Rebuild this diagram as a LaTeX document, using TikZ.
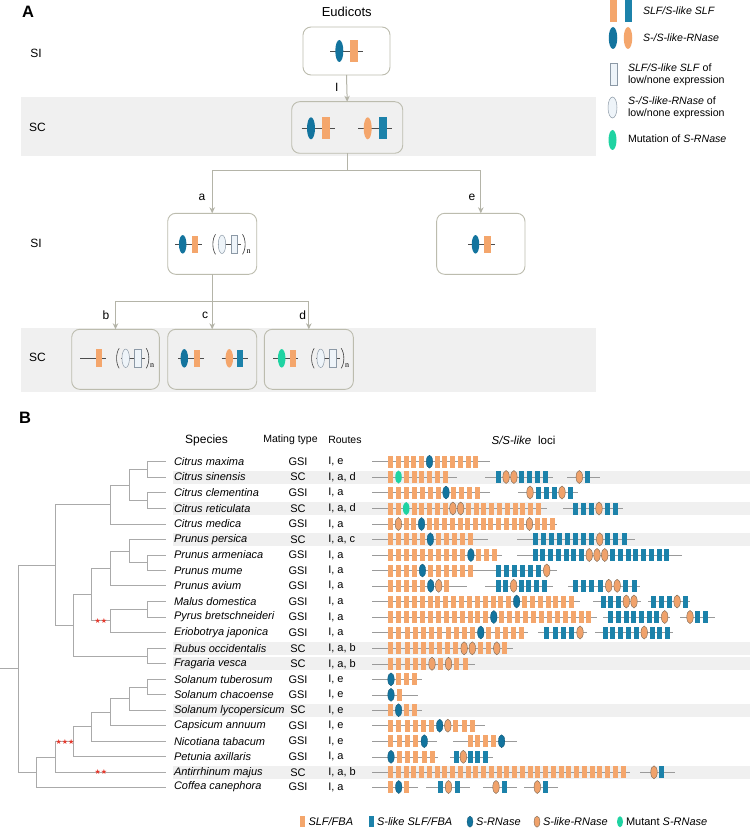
\documentclass[tikz,border=0pt]{standalone}
\usepackage{fontspec}
\setmainfont{Liberation Sans}
\newfontfamily\symfont{DejaVu Sans}
\newfontfamily\serfont{Liberation Serif}
\usetikzlibrary{shapes.geometric,arrows.meta}
\definecolor{cOr}{HTML}{F4A66C}
\definecolor{cBl}{HTML}{1C82AA}
\definecolor{cBE}{HTML}{13749E}
\definecolor{cOE}{HTML}{F0A26B}
\definecolor{cOEd}{HTML}{7A6652}
\definecolor{cGr}{HTML}{1FD3A2}
\definecolor{cLt}{HTML}{EEF4F9}
\definecolor{cLtd}{HTML}{8C99A6}
\definecolor{cBand}{HTML}{F0F0F0}
\definecolor{cBox}{HTML}{BCBCAE}
\definecolor{cArr}{HTML}{B4B4A8}
\definecolor{cTree}{HTML}{AAAAAA}
\definecolor{cLoc}{HTML}{9A9A9A}
\definecolor{cStar}{HTML}{E5372B}
\newcommand\fs[1]{\fontsize{#1}{#1}\selectfont}
\newcommand\locseg[6]{%
  \draw[locline] (#2,#1) -- (#3,#1);
  \foreach \t [count=\k from 0] in {#6} {\node[el\t] at ({#4+\k*#5},#1) {};}%
}
\newcommand\leaf[2]{\expandafter\xdef\csname nx#1\endcsname{165.7}\expandafter\xdef\csname ny#1\endcsname{#2}\coordinate (#1) at (165.7,#2);}
\newcommand\tnode[4]{%
  \edef\tnAx{\csname nx#3\endcsname}\edef\tnAy{\csname ny#3\endcsname}%
  \edef\tnBx{\csname nx#4\endcsname}\edef\tnBy{\csname ny#4\endcsname}%
  \pgfmathsetmacro\tnMy{(\tnAy+\tnBy)/2}%
  \expandafter\xdef\csname nx#1\endcsname{#2}%
  \expandafter\xdef\csname ny#1\endcsname{\tnMy}%
  \coordinate (#1) at (#2,\tnMy);
  \draw[tree] (\tnAx,\tnAy) -- (#2,\tnAy) -- (#2,\tnBy) -- (\tnBx,\tnBy);
}
\newcommand\sprow[5]{%
  \node[sptxt, anchor=west] (sp#2) at (174,#1) {\textit{#3}};
  \node[sptxt] (mt#2) at (298,#1) {#4};
  \node[sptxt, anchor=west] (rt#2) at (328.3,#1) {#5};
}
\newcommand\scband[1]{\fill[cBand] (172.7,#1-6.5) rectangle (750,#1+6.5);}
\newcommand\repgrp[2]{%
  \draw[paren] (#1+2.5,#2-10) .. controls (#1-1,#2-5) and (#1-1,#2+5) .. (#1+2.5,#2+10);
  \draw[glin] (#1+4.5,#2) -- (#1+28,#2);
  \node[midE, fill=cLt, draw=cLtd, line width=0.5pt] at (#1+9,#2) {};
  \node[midR, fill=cLt, draw=cLtd, line width=0.5pt] at (#1+21,#2) {};
  \draw[paren] (#1+29.5,#2-10) .. controls (#1+33,#2-5) and (#1+33,#2+5) .. (#1+29.5,#2+10);
  \node[font=\serfont\fs{8}] at (#1+35.5,#2+7.5) {n};
}
\begin{document}
\begin{tikzpicture}[x=1pt,y=-1pt,
  every node/.style={inner sep=0pt, outer sep=0pt},
  box/.style={draw=cBox, line width=0.9pt, rounded corners=8pt, fill=white},
  boxg/.style={box, fill=cBand},
  conn/.style={draw=cArr, line width=1pt},
  arr/.style={conn, -{Stealth[length=6pt,width=5.5pt]}},
  glin/.style={draw=black!70, line width=0.8pt},
  paren/.style={draw=black!75, line width=0.6pt},
  locline/.style={draw=cLoc, line width=0.6pt},
  tree/.style={draw=cTree, line width=0.8pt},
  elo/.style={rectangle, fill=cOr, minimum width=5pt, minimum height=12pt},
  elb/.style={rectangle, fill=cBl, minimum width=5pt, minimum height=12pt},
  elB/.style={ellipse, fill=cBE, draw=cBE!70!black, line width=0.3pt, minimum width=6.5pt, minimum height=13pt},
  elO/.style={ellipse, fill=cOE, draw=cOEd, line width=0.4pt, minimum width=6.5pt, minimum height=13pt},
  elG/.style={ellipse, fill=cGr, minimum width=6.5pt, minimum height=13pt},
  bigE/.style={ellipse, minimum width=8pt, minimum height=22pt},
  bigR/.style={rectangle, minimum width=7.7pt, minimum height=22pt},
  midE/.style={ellipse, minimum width=7.5pt, minimum height=18.5pt},
  midR/.style={rectangle, minimum width=6.5pt, minimum height=17.5pt},
  lab/.style={font=\fs{12}},
  legtxt/.style={font=\fs{10.6}, anchor=west, align=left},
  sptxt/.style={font=\fs{11}},
  hdr/.style={font=\fs{10.5}},
  star/.style={text=cStar, font=\symfont\fs{7}},
  bleg/.style={font=\fs{11}, anchor=west}
]
\useasboundingbox (0,0) rectangle (750,829);
\fill[white] (0,0) rectangle (750,829);

% ---------------- Part A ----------------
\fill[cBand] (20.7,96.7) rectangle (596,155.7);
\fill[cBand] (20.7,328.3) rectangle (596,391.7);
\node[font=\bfseries\fs{16.5}] (pA) at (28,12) {A};
\node[font=\fs{13}] (eud) at (346.7,12) {Eudicots};
\node[lab] (si1) at (36,53) {SI};
\node[lab] (sc1) at (37.5,127) {SC};
\node[lab] (si2) at (36,243) {SI};
\node[lab] (sc2) at (37.5,357) {SC};

\node[box, minimum width=87pt, minimum height=48pt] (top) at (346.5,51) {};
\node[boxg, minimum width=111pt, minimum height=51.6pt] (sc) at (347.2,127.5) {};
\node[box, minimum width=89pt, minimum height=61pt] (ba) at (212.2,243.8) {};
\node[box, minimum width=88.3pt, minimum height=61pt] (be) at (480.8,243.8) {};
\node[boxg, minimum width=87.6pt, minimum height=60pt] (bb) at (115.5,359.3) {};
\node[boxg, minimum width=89pt, minimum height=60pt] (bc) at (212.2,359.3) {};
\node[boxg, minimum width=89pt, minimum height=60pt] (bd) at (308.8,359.3) {};

% connectors
\draw[arr] (top.south) -- (sc.north);
\node[lab] (lI) at (336.7,87) {I};
\path (sc.south) ++(0,17.7) coordinate (j1);
\draw[conn] (sc.south) -- (j1);
\draw[arr] (j1) -| (ba.north);
\draw[arr] (j1) -| (be.north);
\node[lab] (la) at (202,197.5) {a};
\node[lab] (le) at (472,197.5) {e};
\path (ba.south) ++(0,27.4) coordinate (j2);
\draw[conn] (ba.south) -- (j2);
\draw[arr] (j2) -| (bb.north);
\draw[arr] (ba.south) -- (bc.north);
\draw[arr] (j2) -| (bd.north);
\node[lab] (lb) at (106,315) {b};
\node[lab] (lc) at (205,315) {c};
\node[lab] (ld) at (302.7,315) {d};

% top box glyphs
\draw[glin] (330,51) -- (363,51);
\node[bigE, fill=cBE] (tE) at (339.3,51) {};
\node[bigR, fill=cOr] (tR) at (354.3,51) {};
% SC box glyphs
\draw[glin] (301.7,128.3) -- (335,128.3);
\node[bigE, fill=cBE] (s1E) at (311,128.3) {};
\node[bigR, fill=cOr] (s1R) at (326,128.3) {};
\draw[glin] (358,128.3) -- (392,128.3);
\node[bigE, fill=cOr] (s2E) at (367.7,128.3) {};
\node[bigR, fill=cBl] (s2R) at (383,128.3) {};
% box a
\draw[glin] (175,244.3) -- (201.7,244.3);
\node[midE, fill=cBE] (aE) at (182.7,244.3) {};
\node[midR, fill=cOr] (aR) at (195,244.3) {};
\repgrp{213}{244.3}
% box e
\draw[glin] (468.3,244.3) -- (495,244.3);
\node[midE, fill=cBE] (eE) at (475.5,244.3) {};
\node[midR, fill=cOr] (eR) at (487.5,244.3) {};
% box b
\draw[glin] (80,358.3) -- (106,358.3);
\node[midR, fill=cOr, minimum width=6pt, minimum height=18pt] (bR) at (99,358.3) {};
\repgrp{116.7}{358.3}
% box c
\draw[glin] (178,358.3) -- (204,358.3);
\node[midE, fill=cBE] (cE1) at (184.3,358.3) {};
\node[midR, fill=cOr] (cR1) at (197,358.3) {};
\draw[glin] (221.7,358.3) -- (248.3,358.3);
\node[midE, fill=cOr] (cE2) at (229.3,358.3) {};
\node[midR, fill=cBl] (cR2) at (240,358.3) {};
% box d
\draw[glin] (273,358.3) -- (298,358.3);
\node[midE, fill=cGr] (dE) at (281.7,358.3) {};
\node[midR, fill=cOr] (dR) at (293,358.3) {};
\repgrp{311.7}{358.3}

% legend A
\node[bigR, minimum width=7pt, fill=cOr] (lg1a) at (613.5,11) {};
\node[bigR, minimum width=7pt, fill=cBl] (lg1b) at (628.5,11) {};
\node[legtxt] (lt1) at (643,10.7) {\textit{SLF/S-like SLF}};
\node[bigE, minimum width=8.5pt, fill=cBE] (lg2a) at (613,38) {};
\node[bigE, minimum width=8.5pt, fill=cOr] (lg2b) at (628,38) {};
\node[legtxt] (lt2) at (643,38) {\textit{S-/S-like-RNase}};
\node[bigR, minimum width=7pt, fill=cLt, draw=cLtd, line width=0.5pt] (lg3) at (613.5,74) {};
\node[legtxt] (lt3) at (628,74.5) {\textit{SLF/S-like SLF} of\\[1.5pt]low/none expression};
\node[bigE, minimum width=9pt, minimum height=21pt, fill=cLt, draw=cLtd, line width=0.5pt] (lg4) at (612.5,107.5) {};
\node[legtxt] (lt4) at (628,107.5) {\textit{S-/S-like-RNase} of\\[1.5pt]low/none expression};
\node[bigE, minimum height=20pt, fill=cGr] (lg5) at (612.5,140) {};
\node[legtxt] (lt5) at (628,139) {Mutation of \textit{S-RNase}};

% ---------------- Part B ----------------
\node[font=\bfseries\fs{16.5}] (pB) at (25,417.5) {B};
\node[font=\fs{12}] (hSp) at (206.5,440) {Species};
\node[hdr] (hMt) at (290.5,440) {Mating type};
\node[hdr, anchor=west] (hRt) at (328.3,440) {Routes};
\node[font=\fs{11.5}] (hLo) at (523.5,440) {\textit{S/S-like}\hspace{0.6em}loci};

% SC bands
\scband{477}\scband{508.5}\scband{539.3}\scband{648.3}\scband{663.8}\scband{710.2}\scband{772.3}

% species rows
\sprow{461.7}{0}{Citrus maxima}{GSI}{I, e}
\sprow{477}{1}{Citrus sinensis}{SC}{I, a, d}
\sprow{492.5}{2}{Citrus clementina}{GSI}{I, a}
\sprow{508.5}{3}{Citrus reticulata}{SC}{I, a, d}
\sprow{524}{4}{Citrus medica}{GSI}{I, a}
\sprow{539.3}{5}{Prunus persica}{SC}{I, a, c}
\sprow{555}{6}{Prunus armeniaca}{GSI}{I, a}
\sprow{570.5}{7}{Prunus mume}{GSI}{I, a}
\sprow{585.8}{8}{Prunus avium}{GSI}{I, a}
\sprow{601.5}{9}{Malus domestica}{GSI}{I, a}
\sprow{617}{10}{Pyrus bretschneideri}{GSI}{I, a}
\sprow{632.5}{11}{Eriobotrya japonica}{GSI}{I, a}
\sprow{648.3}{12}{Rubus occidentalis}{SC}{I, a, b}
\sprow{663.8}{13}{Fragaria vesca}{SC}{I, a, b}
\sprow{679.3}{14}{Solanum tuberosum}{GSI}{I, e}
\sprow{694.8}{15}{Solanum chacoense}{GSI}{I, e}
\sprow{710.2}{16}{Solanum lycopersicum}{SC}{I, e}
\sprow{725.7}{17}{Capsicum annuum}{GSI}{I, e}
\sprow{741.2}{18}{Nicotiana tabacum}{GSI}{I, e}
\sprow{756.8}{19}{Petunia axillaris}{GSI}{I, a}
\sprow{772.3}{20}{Antirrhinum majus}{SC}{I, a, b}
\sprow{787}{21}{Coffea canephora}{GSI}{I, a}

% tree
\leaf{L0}{461.7}\leaf{L1}{477}\leaf{L2}{492.5}\leaf{L3}{508.5}\leaf{L4}{524}
\leaf{L5}{539.3}\leaf{L6}{555}\leaf{L7}{570.5}\leaf{L8}{585.8}\leaf{L9}{601.5}
\leaf{L10}{617}\leaf{L11}{632.5}\leaf{L12}{648.3}\leaf{L13}{663.8}\leaf{L14}{679.3}
\leaf{L15}{694.8}\leaf{L16}{710.2}\leaf{L17}{725.7}\leaf{L18}{741.2}\leaf{L19}{756.8}
\leaf{L20}{772.3}\leaf{L21}{787}
\tnode{n01}{147.3}{L0}{L1}
\tnode{n23}{147.3}{L2}{L3}
\tnode{n0123}{129.3}{n01}{n23}
\tnode{nCit}{110.7}{n0123}{L4}
\tnode{n67}{147.3}{L6}{L7}
\tnode{n567}{129.3}{L5}{n67}
\tnode{nPru}{110.7}{n567}{L8}
\tnode{n910}{147.3}{L9}{L10}
\tnode{nMal}{110.7}{n910}{L11}
\tnode{nPM}{91.7}{nPru}{nMal}
\tnode{n1213}{147.3}{L12}{L13}
\tnode{nRos}{73.3}{nPM}{n1213}
\tnode{nRosid}{55}{nCit}{nRos}
\tnode{n1415}{147.3}{L14}{L15}
\tnode{n1416}{129.3}{n1415}{L16}
\tnode{n1417}{110.7}{n1416}{L17}
\tnode{n1418}{91.7}{n1417}{L18}
\tnode{nSol}{73.3}{n1418}{L19}
\tnode{nLS}{55}{nSol}{L20}
\tnode{nAst}{36.7}{nLS}{L21}
\tnode{root}{18.3}{nRosid}{nAst}
\coordinate (rootstub) at (0,\csname nyroot\endcsname);
\draw[tree] (rootstub) -- (root);
\node[star] (st1) at (101,\csname nynMal\endcsname) {★★};
\node[star] (st2) at (65,\csname nynSol\endcsname) {★★★};
\node[star] (st3) at (101,772.3) {★★};

% loci
\locseg{461.7}{372}{490}{390.7}{7.75}{o,o,o,o,o,B,o,o,o,o,o,o}
\locseg{477}{372}{457}{390.7}{7.8}{o,G,o,o,o,o,o,o}
\locseg{477}{485}{553}{498.3}{7.8}{b,O,O,b,b,b,b}
\locseg{477}{567}{600}{579.3}{7.7}{O,b}
\locseg{492.5}{372}{490}{390.7}{7.9}{o,o,o,o,o,o,o,B,o,o,o,o}
\locseg{492.5}{518}{578}{530}{8}{O,b,b,b,O,b}
\locseg{508.5}{372}{547}{390.7}{7.77}{o,o,G,o,o,o,o,o,O,O,o,o,o,o,o,o,o,o,o,o}
\locseg{508.5}{563}{623}{575}{8}{b,b,b,O,b,b}
\locseg{524}{372}{557}{390.7}{7.71}{o,O,o,o,B,o,o,o,o,o,o,o,o,o,o,o,o,o,O,o,o,o}
\locseg{539.3}{372}{488}{390.7}{7.93}{o,o,o,o,o,B,o,o,o,o,o}
\locseg{539.3}{517}{635}{535}{8.09}{b,b,b,b,b,b,b,b,O,b,b,b}
\locseg{555}{372}{502}{390.7}{8.02}{o,o,o,o,o,o,o,o,o,o,B,o,o,o}
\locseg{555}{517}{682}{535}{7.75}{b,b,b,b,b,b,b,O,O,O,b,b,b,b,b,b,b,b}
\locseg{570.5}{372}{488}{390.7}{7.93}{o,o,o,o,B,o,o,o,o,o,o}
\locseg{570.5}{485}{557}{498.3}{8.07}{b,b,b,b,b,b,O}
\locseg{585.8}{372}{467}{390.7}{8}{o,o,o,o,o,B,O,o}
\locseg{585.8}{485}{553}{498.3}{7.67}{b,b,O,b,b,b,b}
\locseg{585.8}{568}{640}{575}{8.43}{b,b,b,b,O,O,b,b}
\locseg{601.5}{372}{580}{390.7}{7.87}{o,o,o,o,o,o,o,o,o,o,o,o,o,o,o,o,B,o,o,o,o,o,o,o}
\locseg{601.5}{593}{641}{603.3}{7.67}{b,b,b,O,O}
\locseg{601.5}{648}{690}{653.3}{7.93}{b,b,b,O,b}
\locseg{617}{372}{597}{390.7}{7.93}{o,o,o,o,o,o,o,o,o,o,o,o,o,B,o,o,o,o,o,o,o,o,o,o,o,o}
\locseg{617}{603}{670}{610.7}{7.71}{b,b,b,b,b,b,b,O}
\locseg{617}{680}{715}{690}{7.65}{O,b,b}
\locseg{632.5}{372}{528}{390.7}{8.19}{o,o,o,o,o,o,o,o,o,o,o,B,o,o,o,o,o}
\locseg{632.5}{538}{587}{546.7}{8.33}{b,b,b,b,O}
\locseg{632.5}{595}{673}{605}{7.84}{b,b,b,b,b,O,b,b,b}
\locseg{648.3}{372}{513}{390.7}{8.16}{o,o,o,o,o,o,o,o,o,O,O,o,o,O,o}
\locseg{663.8}{372}{475}{390.7}{8.26}{o,o,o,o,o,O,o,O,o,o}
\locseg{679.3}{372}{422}{391}{7.77}{B,o,o,o}
\locseg{694.8}{372}{418}{391}{8}{B,o}
\locseg{710.2}{372}{422}{390.7}{7.87}{o,B,o,o}
\locseg{725.7}{372}{485}{390.7}{8.16}{o,o,o,o,o,o,B,O,o,o,o}
\locseg{741.2}{372}{437}{390.7}{8.4}{o,o,o,o,B}
\locseg{741.2}{453}{517}{470}{7.9}{o,o,o,o,B}
\locseg{756.8}{372}{438}{391}{8.27}{B,o,o,o,o,o}
\locseg{756.8}{450}{493}{456}{7.33}{b,O,b,b,b}
\locseg{772.3}{372}{630}{390.7}{7.75}{o,o,o,o,o,o,o,o,o,o,o,o,o,o,o,o,o,o,o,o,o,o,o,o,o,o,o,o,o,o,o}
\locseg{772.3}{640}{675}{654}{7.7}{O,b}
\locseg{787}{372}{418}{390.7}{8}{o,B,o}
\locseg{787}{426}{470}{440}{8.5}{b,O,b}
\locseg{787}{483}{517}{496}{8.3}{O,b}
\locseg{787}{524}{558}{537.3}{7.7}{O,b}

% bottom legend
\node[elo, minimum height=11pt] (bl1) at (302.5,821.7) {};
\node[bleg] (bt1) at (308.5,821.7) {\textit{SLF/FBA}};
\node[elb, minimum height=11pt] (bl2) at (371.5,821.7) {};
\node[bleg] (bt2) at (377,821.7) {\textit{S-like SLF/FBA}};
\node[elB, minimum width=6pt, minimum height=11pt] (bl3) at (470,821.7) {};
\node[bleg] (bt3) at (476,821.7) {\textit{S-RNase}};
\node[elO, minimum width=6pt, minimum height=11pt] (bl4) at (537,821.7) {};
\node[bleg] (bt4) at (543,821.7) {\textit{S-like-RNase}};
\node[elG, minimum width=6pt, minimum height=11pt] (bl5) at (620,821.7) {};
\node[bleg] (bt5) at (626,821.7) {Mutant \textit{S-RNase}};
\end{tikzpicture}
\end{document}
